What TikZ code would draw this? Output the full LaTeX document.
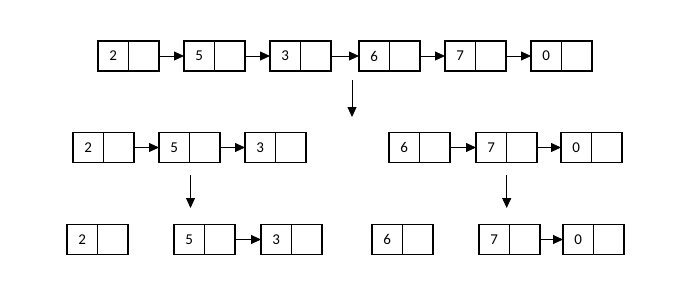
\documentclass[tikz,border=0pt]{standalone}
\usepackage{fontspec}
\setmainfont{Carlito}
\usetikzlibrary{arrows.meta}
\tikzset{
  cell/.style={draw, line width=1.8pt, minimum width=30.5pt, minimum height=30pt, inner sep=0pt, outer sep=0pt, font=\fontsize{15}{17}\selectfont},
  link/.style={line width=0.8pt, -{Triangle[length=10pt,width=9pt]}, shorten <=0.9pt},
  down/.style={line width=0.9pt, -{Triangle[length=10pt,width=9pt]}}
}
\newcommand{\lnode}[4]{% name, left x, center y, value
  \node[cell] (#1v) at (#2+15.25,#3) {#4};
  \node[cell, anchor=west] (#1p) at (#1v.east) {};
}
\begin{document}
\begin{tikzpicture}[x=1pt,y=-1pt]
\useasboundingbox[fill=white] (0,0) rectangle (700,300);
% row 1
\lnode{a}{98}{56}{2}
\lnode{b}{184}{56}{5}
\lnode{c}{270}{56}{3}
\lnode{d}{359}{56}{6}
\lnode{e}{445}{56}{7}
\lnode{f}{531}{56}{0}
\draw[link] (ap.east) -- (bv.west);
\draw[link] (bp.east) -- (cv.west);
\draw[link] (cp.east) -- (dv.west);
\draw[link] (dp.east) -- (ev.west);
\draw[link] (ep.east) -- (fv.west);
% row 2
\lnode{g}{73}{147.5}{2}
\lnode{h}{159}{147.5}{5}
\lnode{i}{245}{147.5}{3}
\lnode{j}{389}{147.5}{6}
\lnode{k}{476}{147.5}{7}
\lnode{l}{561}{147.5}{0}
\draw[link] (gp.east) -- (hv.west);
\draw[link] (hp.east) -- (iv.west);
\draw[link] (jp.east) -- (kv.west);
\draw[link] (kp.east) -- (lv.west);
% row 3
\lnode{m}{67}{239.5}{2}
\lnode{n}{174}{239.5}{5}
\lnode{o}{261}{239.5}{3}
\lnode{q}{372}{239.5}{6}
\lnode{r}{479}{239.5}{7}
\lnode{s}{563}{239.5}{0}
\draw[link] (np.east) -- (ov.west);
\draw[link] (rp.east) -- (sv.west);
% down arrows
\coordinate (d1s) at (352,80);
\coordinate (d1e) at (352,117);
\coordinate (d2s) at (190.5,175);
\coordinate (d2e) at (190.5,208);
\coordinate (d3s) at (506.7,175);
\coordinate (d3e) at (506.7,208);
\draw[down] (d1s) -- (d1e);
\draw[down] (d2s) -- (d2e);
\draw[down] (d3s) -- (d3e);
\end{tikzpicture}
\end{document}
